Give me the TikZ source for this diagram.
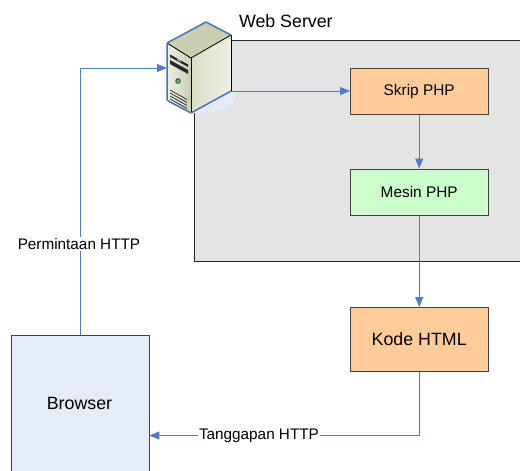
\documentclass[tikz,border=0pt]{standalone}
\usepackage{fontspec}
\setmainfont{Liberation Sans}
\usetikzlibrary{arrows.meta}
\definecolor{linkblue}{HTML}{4F7CC4}
\definecolor{panelgray}{HTML}{E4E4E4}
\definecolor{orangebox}{HTML}{FFCC99}
\definecolor{greenbox}{HTML}{CCFFCC}
\definecolor{bluebox}{HTML}{E6ECF7}
\definecolor{servedge}{HTML}{4674BE}
\definecolor{facelight}{HTML}{EEF0E2}
\definecolor{facemid}{HTML}{DFE3CC}
\definecolor{facedark}{HTML}{C9CFB0}
\tikzset{
  x=1pt,y=-1pt,
  boxstyle/.style={draw=black!75,line width=0.9pt,inner sep=0pt,anchor=north west,text=black},
  smalltxt/.style={font=\fontsize{15.4}{17}\selectfont},
  bigtxt/.style={font=\fontsize{17.8}{20}\selectfont},
  link/.style={draw=linkblue,line width=0.9pt,-{Triangle[length=10pt,width=8pt]}},
  lab/.style={fill=white,inner sep=1pt,font=\fontsize{15.3}{17}\selectfont},
}
\begin{document}
\begin{tikzpicture}
\path[use as bounding box] (0,0) rectangle (520,471);
\clip (0,0) rectangle (520,471);
\fill[white] (0,0) rectangle (520,471);
% panel
\draw[draw=black!85,fill=panelgray,line width=0.9pt] (194,40.5) rectangle (530,261);
% nodes
\node[boxstyle,fill=orangebox,smalltxt,minimum width=137.5pt,minimum height=46.5pt] (skrip) at (350,67.5) {Skrip PHP};
\node[boxstyle,fill=greenbox,smalltxt,minimum width=137.5pt,minimum height=46.5pt] (mesin) at (350,168.5) {Mesin PHP};
\node[boxstyle,fill=orangebox,bigtxt,minimum width=137.5pt,minimum height=64pt] (kode) at (350,307) {Kode HTML};
\node[boxstyle,fill=bluebox,minimum width=137.5pt,minimum height=170pt] (browser) at (11,334.5) {};
\node[bigtxt] (browsertxt) at (79.5,403) {Browser};
\node[anchor=west,font=\fontsize{17.8}{20}\selectfont] (webtitle) at (235.5,21) {Web Server};
% server icon
\fill[bluebox] (191,113) .. controls (215,114) and (238,107) .. (236,94) -- (231,90) -- (191,100) -- cycle;
\path[left color=facelight,right color=facedark] (167,43) -- (191,58) -- (191,113) -- (167,100) -- cycle;
\path[left color=facedark!70!white,right color=facelight] (191,58) -- (231,35) -- (231,91) -- (191,113) -- cycle;
\path[fill=facedark] (167,43) -- (206,22) -- (231,35) -- (191,58) -- cycle;
\draw[black,line width=0.8pt] (167,43) -- (191,58) -- (231,35);
\draw[black,line width=0.8pt] (191,58) -- (191,113);
\draw[servedge,line width=1.5pt,line join=round] (167,43) -- (206,22) -- (231,35);
\draw[black,line width=0.8pt] (231,35) -- (231,91);
\draw[servedge,line width=1.5pt,line join=round] (231,91) -- (191,113) -- (170,102) -- (167,100) -- (167,43);
\fill[black!85] (170,54.5) -- (188,64.5) -- (188,67) -- (170,57) -- cycle;
\fill[black!85] (170,60) -- (188,70) -- (188,74) -- (170,64) -- cycle;
\fill[white!70!black] (177,58.5) -- (181,60.7) -- (181,62) -- (177,59.8) -- cycle;
\fill[black!70] (178,81) circle (2.8pt);
\fill[teal!60!white] (178,81.3) circle (1.7pt);
\foreach \d in {0,3,6,9}{\draw[black!85,line width=0.7pt] (170,90+\d) -- (187,99.5+\d);}
\node[minimum width=64pt,minimum height=91pt,inner sep=0pt,anchor=north west] (server) at (167,22) {};
% connectors
\draw[link] (server.east |- 0,91) -- (skrip.west |- 0,91);
\draw[link] (skrip) -- (mesin);
\draw[link] (mesin) -- (kode);
\draw[link] (browser.north) |- (server.west |- 0,68);
\draw[link] (kode.south) |- (browser.east |- 0,435.5);
\node[lab] (permtxt) at (79,244) {Permintaan HTTP};
\node[lab] (tangtxt) at (259,435.5) {Tanggapan HTTP};
\end{tikzpicture}
\end{document}
